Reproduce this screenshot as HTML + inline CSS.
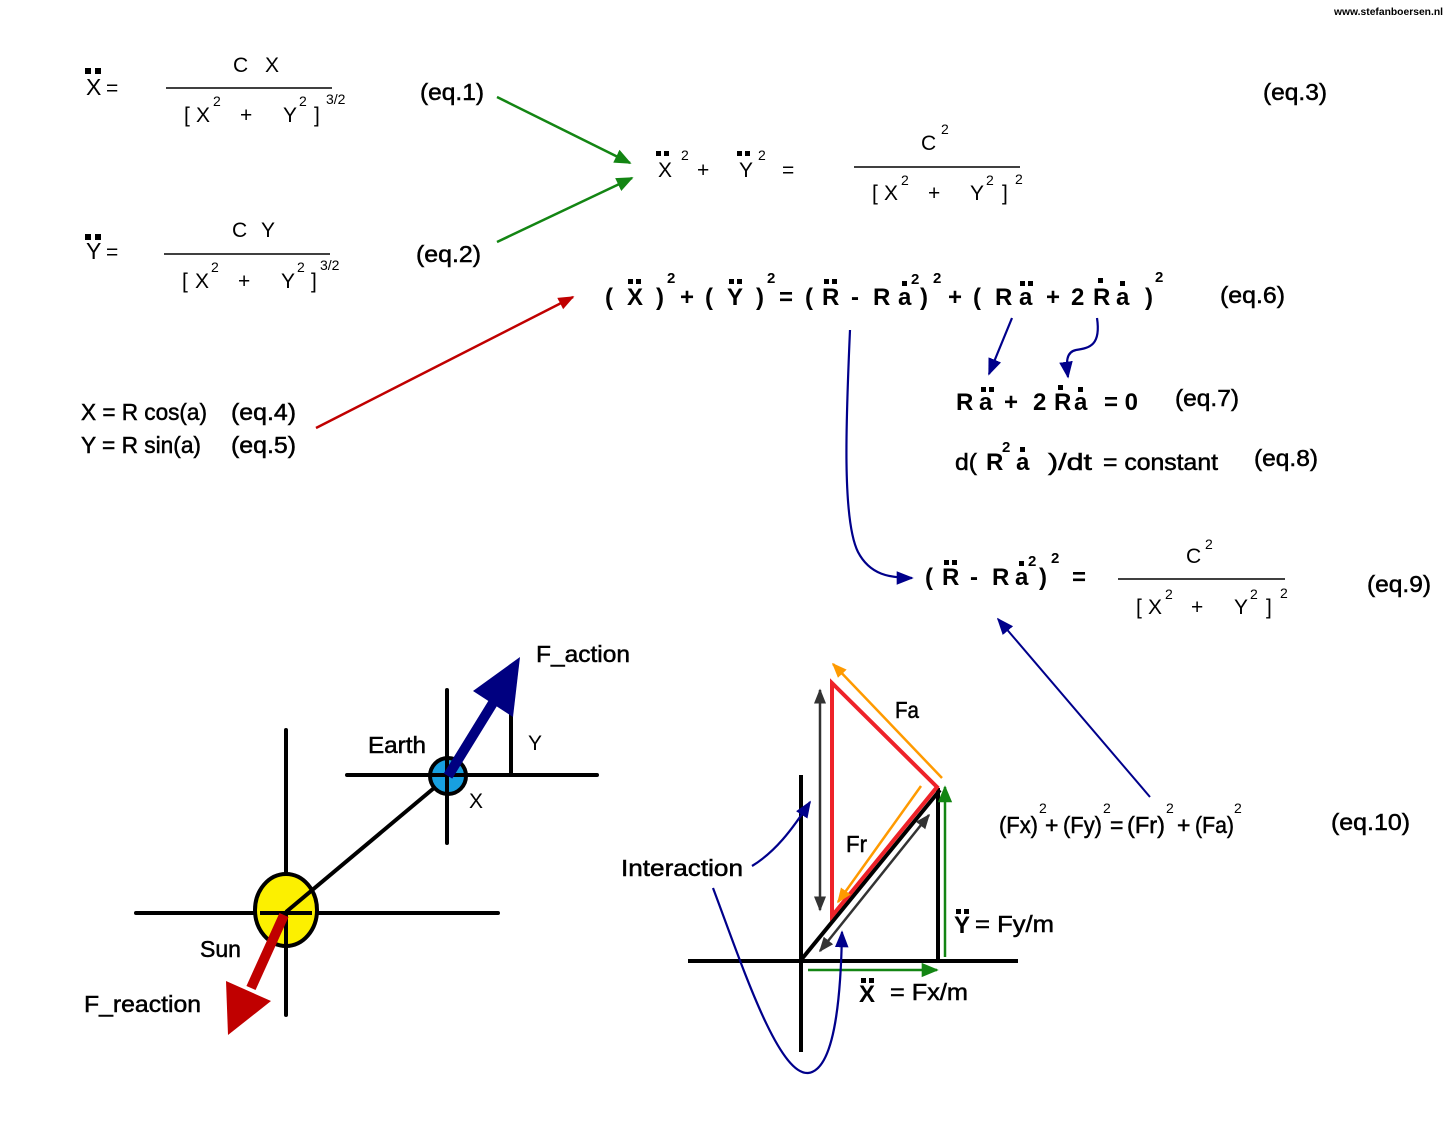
<!DOCTYPE html>
<html><head><meta charset="utf-8"><style>
html,body{margin:0;padding:0;background:#fff;}
svg{display:block;}
text{font-family:"Liberation Sans",Arial,sans-serif;fill:#000;}
.m{font-size:21px;}
.s{font-size:14px;}
.l{font-size:23px;stroke:#000;stroke-width:0.5px;}
.b{font-size:24px;font-weight:bold;}
.bs{font-size:15px;font-weight:bold;}
</style></head><body>
<svg width="1448" height="1143" viewBox="0 0 1448 1143" xmlns="http://www.w3.org/2000/svg">
<defs>
<marker id="ag" markerUnits="userSpaceOnUse" markerWidth="17" markerHeight="17" viewBox="0 0 10 10" refX="9" refY="5" orient="auto"><path d="M0,0.8 L10,5 L0,9.2 z" fill="#138513"/></marker>
<marker id="ar" markerUnits="userSpaceOnUse" markerWidth="16" markerHeight="16" viewBox="0 0 10 10" refX="9" refY="5" orient="auto"><path d="M0,1 L10,5 L0,9 z" fill="#c00000"/></marker>
<marker id="an" markerUnits="userSpaceOnUse" markerWidth="17" markerHeight="17" viewBox="0 0 10 10" refX="9" refY="5" orient="auto"><path d="M0,1 L10,5 L0,9 z" fill="#00008b"/></marker>
<marker id="ak" markerUnits="userSpaceOnUse" markerWidth="15" markerHeight="15" viewBox="0 0 10 10" refX="9" refY="5" orient="auto-start-reverse"><path d="M0,1 L10,5 L0,9 z" fill="#333"/></marker>
<marker id="ao" markerUnits="userSpaceOnUse" markerWidth="15" markerHeight="15" viewBox="0 0 10 10" refX="9" refY="5" orient="auto"><path d="M0,1 L10,5 L0,9 z" fill="#ff9a00"/></marker>
</defs>

<!-- watermark -->
<text x="1334" y="15" style="font-size:10px;font-weight:bold" textLength="109" lengthAdjust="spacingAndGlyphs">www.stefanboersen.nl</text>

<!-- eq.1 -->
<rect x="85" y="68" width="6" height="6"/><rect x="95" y="68" width="6" height="6"/>
<text x="86" y="95" class="m" style="font-size:23px">X</text><text x="106" y="95" class="m">=</text>
<text x="233" y="72" class="m">C</text><text x="265" y="72" class="m">X</text>
<line x1="166" y1="88" x2="332" y2="88" stroke="#000" stroke-width="1.6"/>
<text x="184" y="122" class="m">[</text><text x="196" y="122" class="m">X</text><text x="213" y="106" class="s">2</text>
<text x="240" y="122" class="m">+</text><text x="283" y="122" class="m">Y</text><text x="299" y="106" class="s">2</text>
<text x="314" y="122" class="m">]</text><text x="326" y="104" class="s">3/2</text>
<text x="420" y="100" class="l" textLength="64" lengthAdjust="spacingAndGlyphs">(eq.1)</text>

<!-- eq.2 -->
<rect x="85" y="234" width="6" height="6"/><rect x="95" y="234" width="6" height="6"/>
<text x="86" y="259" class="m" style="font-size:23px">Y</text><text x="106" y="259" class="m">=</text>
<text x="232" y="237" class="m">C</text><text x="261" y="237" class="m">Y</text>
<line x1="164" y1="254" x2="330" y2="254" stroke="#000" stroke-width="1.6"/>
<text x="182" y="288" class="m">[</text><text x="195" y="288" class="m">X</text><text x="211" y="272" class="s">2</text>
<text x="238" y="288" class="m">+</text><text x="281" y="288" class="m">Y</text><text x="297" y="272" class="s">2</text>
<text x="311" y="288" class="m">]</text><text x="320" y="270" class="s">3/2</text>
<text x="416" y="262" class="l" textLength="65" lengthAdjust="spacingAndGlyphs">(eq.2)</text>

<!-- eq.3 -->
<rect x="656" y="151" width="5" height="5"/><rect x="664" y="151" width="5" height="5"/>
<text x="658" y="177" class="m">X</text><text x="681" y="160" class="s">2</text>
<text x="697" y="177" class="m">+</text>
<rect x="737" y="151" width="5" height="5"/><rect x="745" y="151" width="5" height="5"/>
<text x="739" y="177" class="m">Y</text><text x="758" y="160" class="s">2</text>
<text x="782" y="177" class="m">=</text>
<text x="921" y="150" class="m">C</text><text x="941" y="134" class="s">2</text>
<line x1="854" y1="167" x2="1020" y2="167" stroke="#000" stroke-width="1.6"/>
<text x="872" y="200" class="m">[</text><text x="884" y="200" class="m">X</text><text x="901" y="185" class="s">2</text>
<text x="928" y="200" class="m">+</text><text x="970" y="200" class="m">Y</text><text x="986" y="185" class="s">2</text>
<text x="1002" y="200" class="m">]</text><text x="1015" y="184" class="s">2</text>
<text x="1263" y="100" class="l" textLength="64" lengthAdjust="spacingAndGlyphs">(eq.3)</text>

<!-- green arrows -->
<line x1="497" y1="97" x2="630" y2="163" stroke="#138513" stroke-width="2.5" marker-end="url(#ag)"/>
<line x1="497" y1="242" x2="632" y2="178" stroke="#138513" stroke-width="2.5" marker-end="url(#ag)"/>

<!-- eq.6 -->
<g class="b">
<text x="605" y="305" class="b">(</text>
<rect x="628" y="279" width="5" height="5"/><rect x="636" y="279" width="5" height="5"/>
<text x="627" y="305" class="b">X</text>
<text x="656" y="305" class="b">)</text><text x="667" y="283" class="bs">2</text>
<text x="680" y="305" class="b">+</text>
<text x="705" y="305" class="b">(</text>
<rect x="729" y="279" width="5" height="5"/><rect x="737" y="279" width="5" height="5"/>
<text x="727" y="305" class="b">Y</text>
<text x="756" y="305" class="b">)</text><text x="767" y="283" class="bs">2</text>
<text x="779" y="305" class="b">=</text>
<text x="805" y="305" class="b">(</text>
<rect x="824" y="279" width="5" height="5"/><rect x="832" y="279" width="5" height="5"/>
<text x="822" y="305" class="b">R</text>
<text x="851" y="305" class="b">-</text>
<text x="873" y="305" class="b">R</text>
<rect x="902" y="281" width="5" height="5"/>
<text x="898" y="305" class="b">a</text><text x="911" y="284" class="bs">2</text>
<text x="920" y="305" class="b">)</text><text x="933" y="283" class="bs">2</text>
<text x="948" y="305" class="b">+</text>
<text x="973" y="305" class="b">(</text>
<text x="995" y="305" class="b">R</text>
<rect x="1020" y="281" width="5" height="5"/><rect x="1028" y="281" width="5" height="5"/>
<text x="1019" y="305" class="b">a</text>
<text x="1046" y="305" class="b">+</text>
<text x="1071" y="305" class="b">2</text>
<rect x="1098" y="278" width="5" height="5"/>
<text x="1093" y="305" class="b">R</text>
<rect x="1120" y="281" width="5" height="5"/>
<text x="1116" y="305" class="b">a</text>
<text x="1145" y="305" class="b">)</text><text x="1155" y="282" class="bs">2</text>
</g>
<text x="1220" y="303" class="l" textLength="65" lengthAdjust="spacingAndGlyphs">(eq.6)</text>

<!-- eq.6 connectors -->
<line x1="1012" y1="318" x2="989" y2="374" stroke="#00008b" stroke-width="2.2" marker-end="url(#an)"/>
<path d="M1097,318 C1101,345 1090,348 1076,350 C1066,352 1066,362 1068,377" fill="none" stroke="#00008b" stroke-width="2.2" marker-end="url(#an)"/>
<path d="M850,330 C846,420 842,520 858,552 C870,575 890,578 912,578" fill="none" stroke="#00008b" stroke-width="2.2" marker-end="url(#an)"/>

<!-- eq.7 -->
<text x="956" y="410" class="b">R</text>
<rect x="981" y="387" width="5" height="5"/><rect x="989" y="387" width="5" height="5"/>
<text x="979" y="410" class="b">a</text>
<text x="1004" y="410" class="b">+</text>
<text x="1033" y="410" class="b">2</text>
<rect x="1058" y="385" width="5" height="5"/>
<text x="1054" y="410" class="b">R</text>
<rect x="1078" y="387" width="5" height="5"/>
<text x="1074" y="410" class="b">a</text>
<text x="1104" y="410" class="b" textLength="34" lengthAdjust="spacingAndGlyphs">= 0</text>
<text x="1175" y="406" class="l" textLength="64" lengthAdjust="spacingAndGlyphs">(eq.7)</text>

<!-- eq.8 -->
<text x="955" y="470" class="l" textLength="22" lengthAdjust="spacingAndGlyphs">d(</text>
<text x="986" y="470" class="b">R</text><text x="1002" y="452" class="bs">2</text>
<rect x="1020" y="447" width="5" height="5"/>
<text x="1016" y="470" class="b">a</text>
<text x="1048" y="470" class="l" textLength="44" lengthAdjust="spacingAndGlyphs">)/dt</text>
<text x="1103" y="470" class="l" textLength="115" lengthAdjust="spacingAndGlyphs">= constant</text>
<text x="1254" y="466" class="l" textLength="64" lengthAdjust="spacingAndGlyphs">(eq.8)</text>

<!-- eq.9 -->
<text x="925" y="585" class="b">(</text>
<rect x="944" y="560" width="5" height="5"/><rect x="952" y="560" width="5" height="5"/>
<text x="942" y="585" class="b">R</text>
<text x="970" y="585" class="b">-</text>
<text x="992" y="585" class="b">R</text>
<rect x="1019" y="561" width="5" height="5"/>
<text x="1015" y="585" class="b">a</text><text x="1028" y="566" class="bs">2</text>
<text x="1039" y="585" class="b">)</text><text x="1051" y="563" class="bs">2</text>
<text x="1072" y="585" class="b">=</text>
<text x="1186" y="563" class="m">C</text><text x="1205" y="549" class="s">2</text>
<line x1="1118" y1="579" x2="1285" y2="579" stroke="#000" stroke-width="1.6"/>
<text x="1136" y="614" class="m">[</text><text x="1148" y="614" class="m">X</text><text x="1165" y="599" class="s">2</text>
<text x="1191" y="614" class="m">+</text><text x="1234" y="614" class="m">Y</text><text x="1250" y="599" class="s">2</text>
<text x="1266" y="614" class="m">]</text><text x="1280" y="598" class="s">2</text>
<text x="1367" y="592" class="l" textLength="64" lengthAdjust="spacingAndGlyphs">(eq.9)</text>

<!-- eq.10 -->
<text x="999" y="833" class="l" textLength="39" lengthAdjust="spacingAndGlyphs">(Fx)</text><text x="1039" y="813" class="s">2</text>
<text x="1045" y="833" class="l">+</text>
<text x="1063" y="833" class="l" textLength="39" lengthAdjust="spacingAndGlyphs">(Fy)</text><text x="1103" y="813" class="s">2</text>
<text x="1110" y="833" class="l">=</text>
<text x="1127" y="833" class="l" textLength="38" lengthAdjust="spacingAndGlyphs">(Fr)</text><text x="1166" y="813" class="s">2</text>
<text x="1177" y="833" class="l">+</text>
<text x="1195" y="833" class="l" textLength="39" lengthAdjust="spacingAndGlyphs">(Fa)</text><text x="1234" y="813" class="s">2</text>
<text x="1331" y="830" class="l" textLength="79" lengthAdjust="spacingAndGlyphs">(eq.10)</text>
<line x1="1150" y1="797" x2="998" y2="619" stroke="#00008b" stroke-width="2" marker-end="url(#an)"/>

<!-- eq.4 / eq.5 -->
<text x="81" y="420" class="l" textLength="126" lengthAdjust="spacingAndGlyphs">X = R cos(a)</text>
<text x="231" y="420" class="l" textLength="65" lengthAdjust="spacingAndGlyphs">(eq.4)</text>
<text x="81" y="453" class="l" textLength="120" lengthAdjust="spacingAndGlyphs">Y = R sin(a)</text>
<text x="231" y="453" class="l" textLength="65" lengthAdjust="spacingAndGlyphs">(eq.5)</text>
<line x1="316" y1="428" x2="573" y2="297" stroke="#c00000" stroke-width="2.5" marker-end="url(#ar)"/>

<!-- Sun / Earth diagram -->
<g stroke="#000" stroke-width="4" stroke-linecap="round">
<line x1="136" y1="913" x2="498" y2="913"/>
<line x1="286" y1="730" x2="286" y2="1015"/>
<line x1="347" y1="775" x2="597" y2="775"/>
<line x1="447" y1="690" x2="447" y2="843"/>
<line x1="511" y1="712" x2="511" y2="775"/>
</g>
<ellipse cx="286" cy="910" rx="31" ry="36" fill="#fcf000" stroke="#000" stroke-width="4"/>
<line x1="286" y1="912" x2="440" y2="783" stroke="#000" stroke-width="4"/>
<circle cx="448" cy="776" r="18" fill="#18a0e0" stroke="#000" stroke-width="4"/>
<line x1="286" y1="913" x2="286" y2="945" stroke="#000" stroke-width="4"/>
<line x1="260" y1="913" x2="312" y2="913" stroke="#000" stroke-width="4"/>
<line x1="447" y1="760" x2="447" y2="792" stroke="#000" stroke-width="4"/>
<line x1="432" y1="775" x2="464" y2="775" stroke="#000" stroke-width="4"/>
<!-- F_action -->
<line x1="448" y1="776" x2="496" y2="698" stroke="#000080" stroke-width="10"/>
<polygon points="473,691 520,657 513,717" fill="#000080"/>
<!-- F_reaction -->
<line x1="284" y1="915" x2="251" y2="988" stroke="#c00000" stroke-width="10"/>
<polygon points="226,981 271,1001 228,1035" fill="#c00000"/>
<text x="536" y="662" class="l" textLength="94" lengthAdjust="spacingAndGlyphs">F_action</text>
<text x="368" y="753" class="l" textLength="58" lengthAdjust="spacingAndGlyphs">Earth</text>
<text x="528" y="750" class="m">Y</text>
<text x="469" y="808" class="m">X</text>
<text x="200" y="957" class="l" textLength="41" lengthAdjust="spacingAndGlyphs">Sun</text>
<text x="84" y="1012" class="l" textLength="117" lengthAdjust="spacingAndGlyphs">F_reaction</text>

<!-- Force triangle diagram -->
<g stroke="#000" stroke-width="4">
<line x1="688" y1="961" x2="1018" y2="961"/>
<line x1="801" y1="775" x2="801" y2="1052"/>
<line x1="938" y1="788" x2="938" y2="960"/>
<line x1="801" y1="960" x2="940" y2="790"/>
</g>
<polygon points="832,683 937,787 832,916" fill="none" stroke="#ee2229" stroke-width="4" stroke-linejoin="miter"/>
<line x1="820" y1="690" x2="820" y2="910" stroke="#333" stroke-width="2.5" marker-start="url(#ak)" marker-end="url(#ak)"/>
<line x1="820" y1="951" x2="929" y2="815" stroke="#333" stroke-width="2.5" marker-start="url(#ak)" marker-end="url(#ak)"/>
<line x1="942" y1="778" x2="833" y2="664" stroke="#ff9a00" stroke-width="2.5" marker-end="url(#ao)"/>
<line x1="921" y1="786" x2="838" y2="902" stroke="#ff9a00" stroke-width="2.5" marker-end="url(#ao)"/>
<line x1="945" y1="957" x2="945" y2="787" stroke="#138513" stroke-width="2.5" marker-end="url(#ag)"/>
<line x1="808" y1="970" x2="937" y2="970" stroke="#138513" stroke-width="2.5" marker-end="url(#ag)"/>
<text x="895" y="718" class="l" textLength="24" lengthAdjust="spacingAndGlyphs">Fa</text>
<text x="846" y="852" class="l" textLength="21" lengthAdjust="spacingAndGlyphs">Fr</text>
<text x="621" y="876" class="l" textLength="122" lengthAdjust="spacingAndGlyphs">Interaction</text>
<rect x="956" y="909" width="5" height="5"/><rect x="964" y="909" width="5" height="5"/>
<text x="954" y="933" class="b">Y</text>
<text x="975" y="932" class="l" textLength="79" lengthAdjust="spacingAndGlyphs">= Fy/m</text>
<rect x="861" y="978" width="5" height="5"/><rect x="869" y="978" width="5" height="5"/>
<text x="859" y="1002" class="b">X</text>
<text x="890" y="1000" class="l" textLength="78" lengthAdjust="spacingAndGlyphs">= Fx/m</text>
<path d="M752,866 C775,852 792,830 810,802" fill="none" stroke="#00008b" stroke-width="2.2" marker-end="url(#an)"/>
<path d="M713,888 C742,965 778,1075 808,1073 C836,1070 841,990 842,932" fill="none" stroke="#00008b" stroke-width="2.2" marker-end="url(#an)"/>
</svg>
</body></html>
